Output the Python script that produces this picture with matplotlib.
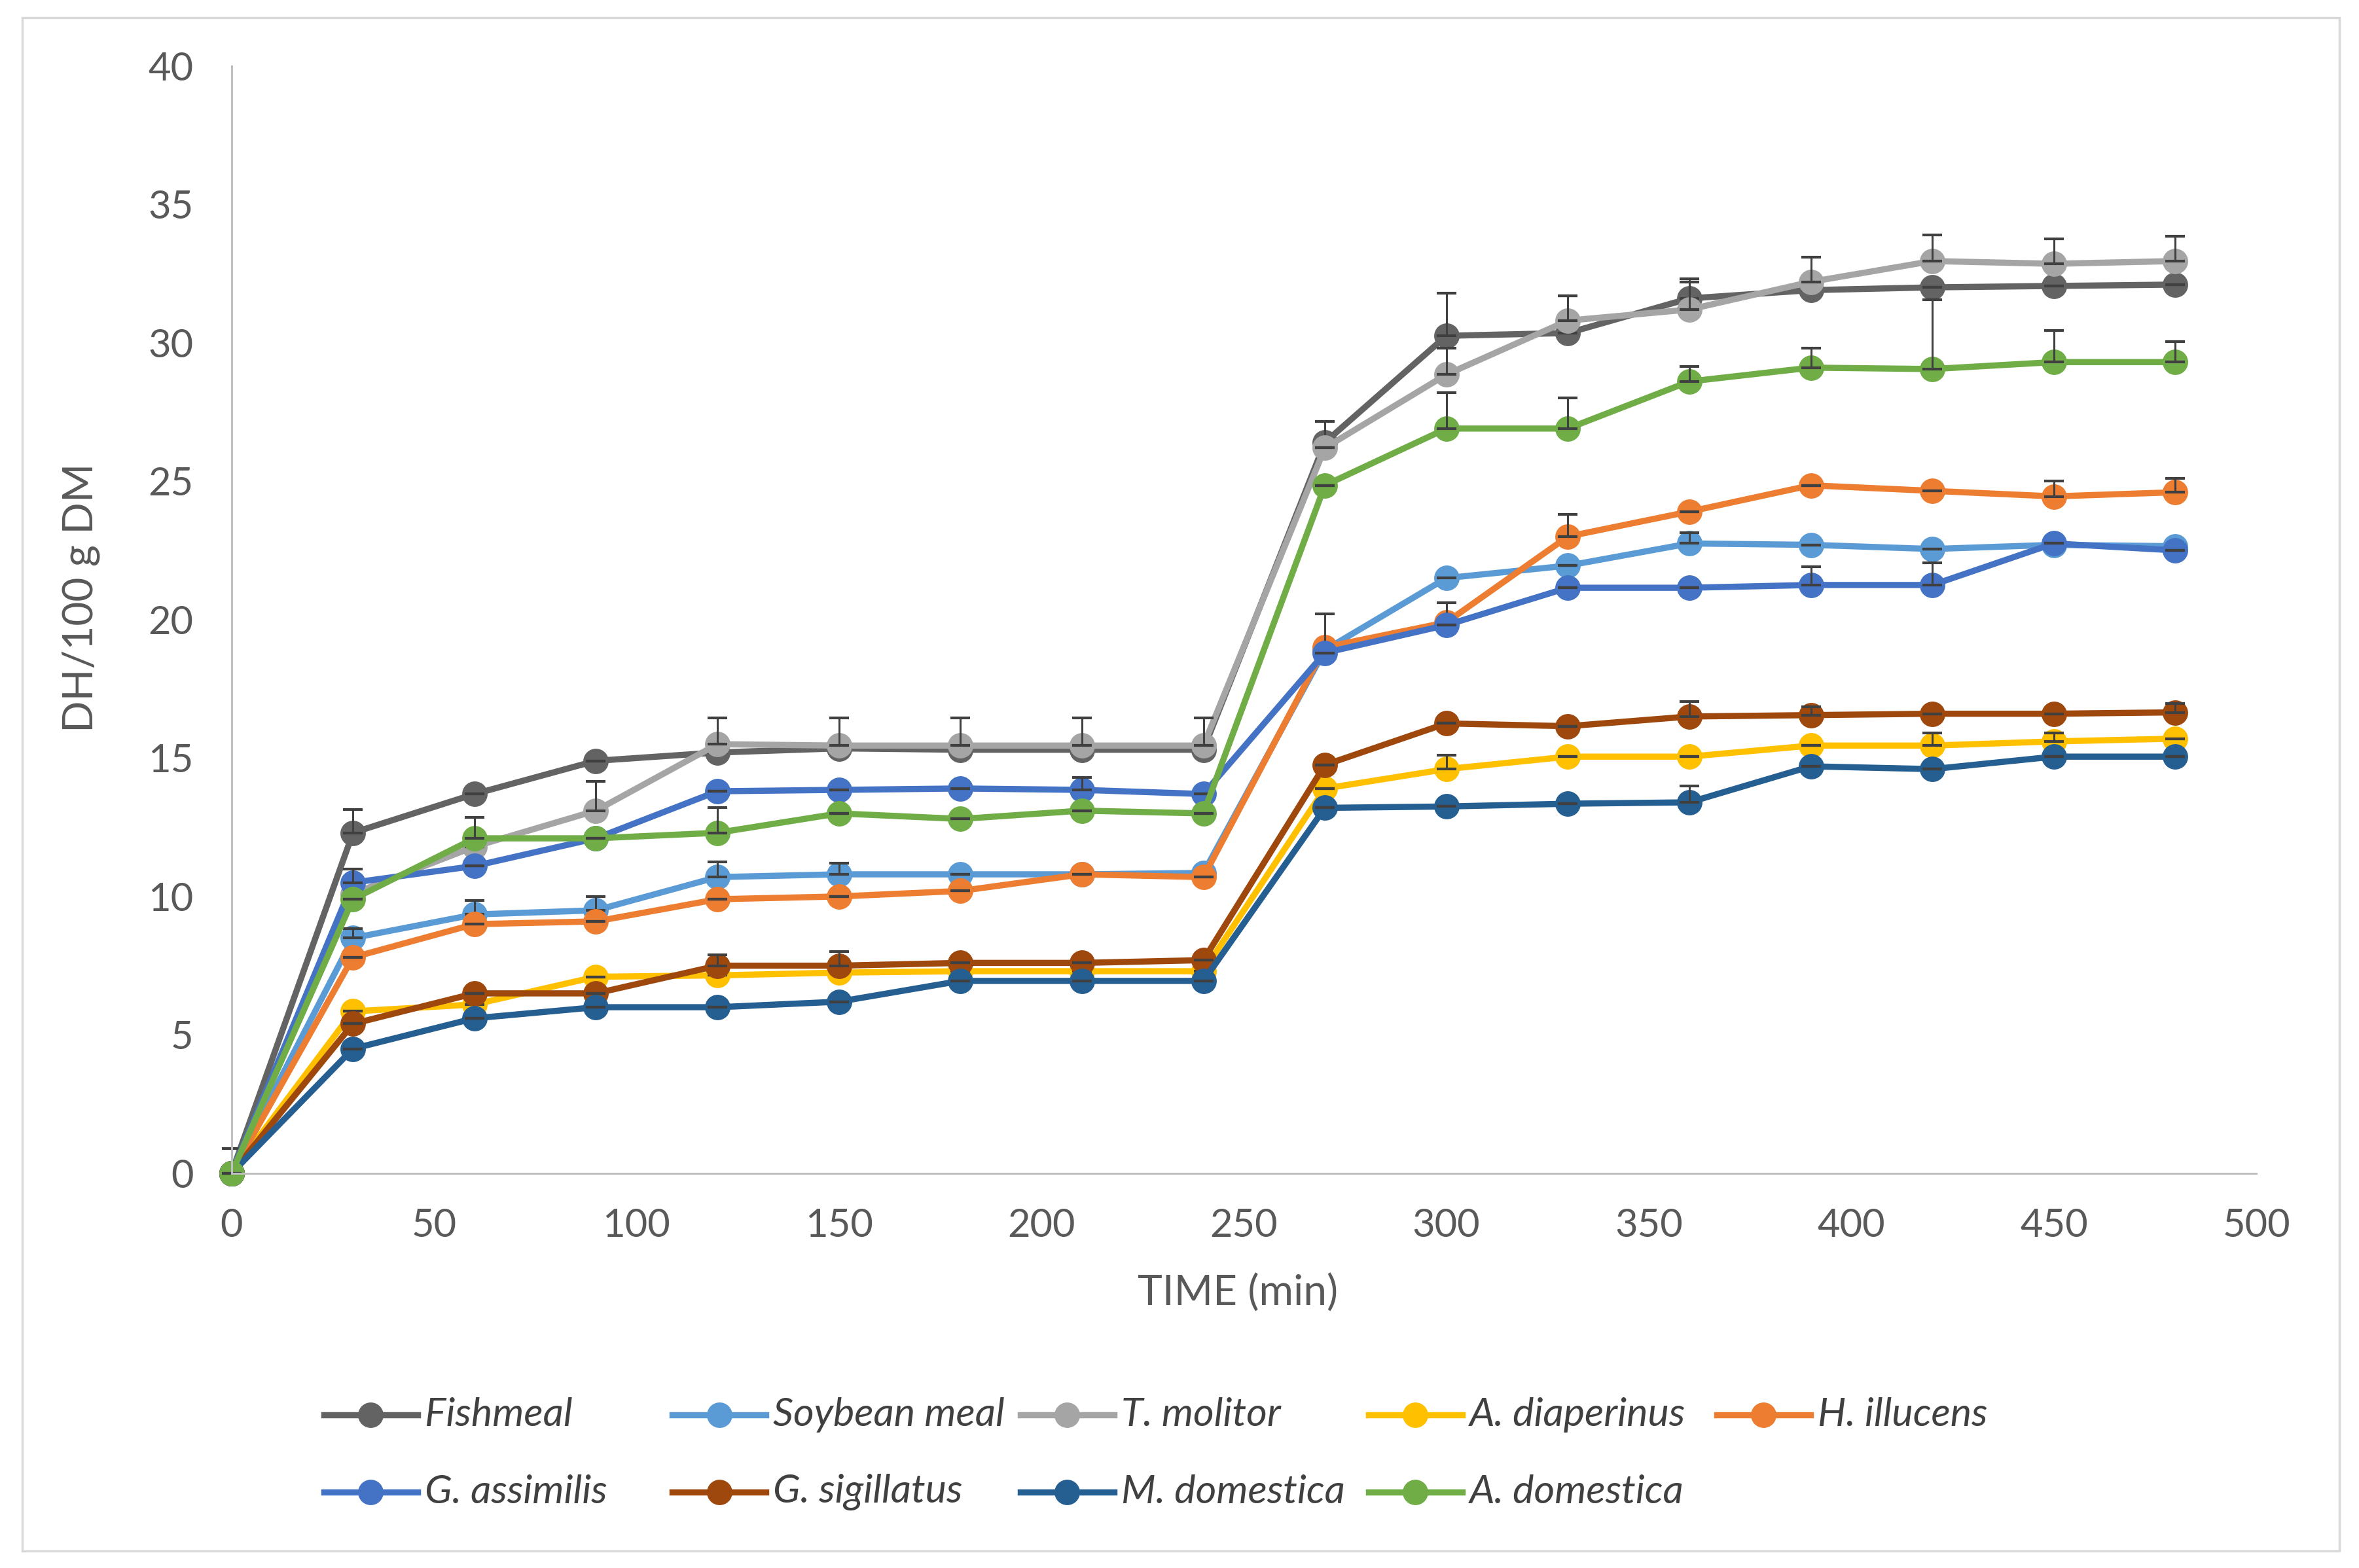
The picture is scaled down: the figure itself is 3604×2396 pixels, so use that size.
"""
Degree of hydrolysis (DH/100 g DM) over time for fishmeal, soybean meal and
seven insect meals, Excel-style line chart with upward error bars.
"""

import matplotlib

matplotlib.use("Agg")
import matplotlib.pyplot as plt
from matplotlib.lines import Line2D
from matplotlib.patches import Rectangle

plt.rcParams["font.family"] = ["Lato", "DejaVu Sans"]

# --- data ------------------------------------------------------------
time_min = [0, 30, 60, 90, 120, 150, 180, 210, 240, 270, 300, 330, 360, 390, 420, 450, 480]

series_names = ["Fishmeal", "Soybean meal", "T. molitor", "A. diaperinus", "H. illucens",
                "G. assimilis", "G. sigillatus", "M. domestica", "A. domestica"]
series_colors = ["#636363", "#5B9BD5", "#A5A5A5", "#FFC000", "#ED7D31",
                 "#4472C4", "#9E480E", "#255E91", "#70AD47"]

fishmeal = [0, 12.3, 13.7, 14.9, 15.2, 15.35, 15.3, 15.3, 15.3, 26.4, 30.25, 30.35, 31.6, 31.9, 32.0, 32.05, 32.1]
fishmeal_err = [0.9, 0.85, 0, 0, 0, 0, 0, 0, 0, 0.75, 1.55, 1.35, 0.7, 0, 0, 0, 0]

soybean = [0, 8.5, 9.35, 9.5, 10.7, 10.8, 10.8, 10.8, 10.85, 18.9, 21.5, 21.95, 22.75, 22.7, 22.55, 22.7, 22.65]
soybean_err = [0, 0.35, 0.5, 0.5, 0.55, 0.4, 0, 0, 0, 0, 0, 0, 0.4, 0, 0, 0, 0]

t_molitor = [0, 10.1, 11.8, 13.1, 15.5, 15.45, 15.45, 15.45, 15.45, 26.2, 28.85, 30.8, 31.2, 32.2, 32.95, 32.85, 32.95]
t_molitor_err = [0, 0, 0, 1.05, 0.95, 1.0, 1.0, 1.0, 1.0, 0, 0.95, 0.9, 1.0, 0.9, 0.95, 0.9, 0.9]

a_diaperinus = [0, 5.85, 6.1, 7.1, 7.15, 7.25, 7.3, 7.3, 7.3, 13.9, 14.6, 15.05, 15.05, 15.45, 15.45, 15.6, 15.7]
a_diaperinus_err = [0, 0, 0, 0, 0, 0, 0, 0, 0, 0, 0.5, 0, 0, 0, 0.45, 0.3, 0]

h_illucens = [0, 7.8, 9.0, 9.1, 9.9, 10.0, 10.2, 10.8, 10.7, 19.0, 19.9, 23.0, 23.9, 24.85, 24.65, 24.45, 24.6]
h_illucens_err = [0, 0, 0, 0, 0, 0, 0, 0, 0, 1.2, 0.7, 0.8, 0, 0, 0, 0.55, 0.5]

g_assimilis = [0, 10.5, 11.1, 12.1, 13.8, 13.85, 13.9, 13.85, 13.7, 18.8, 19.8, 21.15, 21.15, 21.25, 21.25, 22.75, 22.5]
g_assimilis_err = [0, 0.5, 0, 0, 0, 0, 0, 0.45, 0, 0, 0, 0, 0, 0.65, 0.8, 0, 0]

g_sigillatus = [0, 5.4, 6.5, 6.5, 7.5, 7.5, 7.6, 7.6, 7.7, 14.75, 16.25, 16.15, 16.5, 16.55, 16.6, 16.6, 16.65]
g_sigillatus_err = [0, 0, 0, 0, 0.4, 0.5, 0, 0, 0, 0, 0, 0, 0.55, 0.3, 0, 0, 0.33]

m_domestica = [0, 4.5, 5.6, 6.0, 6.0, 6.2, 6.95, 6.95, 6.95, 13.2, 13.25, 13.35, 13.4, 14.7, 14.6, 15.05, 15.05]
m_domestica_err = [0, 0, 0, 0, 0, 0, 0, 0, 0, 0, 0, 0, 0.6, 0, 0, 0, 0]

a_domestica = [0, 9.9, 12.1, 12.1, 12.3, 13.0, 12.8, 13.1, 13.0, 24.85, 26.9, 26.9, 28.6, 29.1, 29.05, 29.3, 29.3]
a_domestica_err = [0, 0, 0.75, 0, 0.9, 0, 0, 0, 0, 0, 1.3, 1.1, 0.55, 0.7, 2.5, 1.15, 0.75]

series_values = [fishmeal, soybean, t_molitor, a_diaperinus, h_illucens,
                 g_assimilis, g_sigillatus, m_domestica, a_domestica]
series_errors = [fishmeal_err, soybean_err, t_molitor_err, a_diaperinus_err, h_illucens_err,
                 g_assimilis_err, g_sigillatus_err, m_domestica_err, a_domestica_err]

# --- figure ----------------------------------------------------------
W, H = 3605, 2396
fig = plt.figure(figsize=(W / 100, H / 100), dpi=100)
fig.add_artist(Rectangle((34 / W, 1 - 2370 / H), (3574 - 34) / W, (2370 - 27) / H,
                         transform=fig.transFigure, fill=False, edgecolor="#D9D9D9", linewidth=2.5))

ax = fig.add_axes([0.0981, 0.2517, 0.8581, 0.7063])

LW, MS = 6.8, 28
for vals, errs, color in zip(series_values, series_errors, series_colors):
    ax.plot(time_min, vals, color=color, linewidth=LW, marker="o", markersize=MS,
            markeredgewidth=0, clip_on=False)
    lower = [0] * len(errs)
    ax.errorbar(time_min, vals, yerr=[lower, errs], fmt="none", ecolor="#404040",
                elinewidth=2.2, capsize=10.5, capthick=3, clip_on=False)

ax.set_xlim(0, 500)
ax.set_ylim(0, 40)
ax.set_xticks(range(0, 501, 50))
ax.set_yticks(range(0, 41, 5))
ax.tick_params(length=0, labelsize=43, colors="#595959")
ax.tick_params(axis="x", pad=38)
ax.tick_params(axis="y", pad=42)
for side in ("top", "right"):
    ax.spines[side].set_visible(False)
for side in ("left", "bottom"):
    ax.spines[side].set_color("#BFBFBF")
    ax.spines[side].set_linewidth(2.2)

ax.set_xlabel("TIME (min)", fontsize=46, color="#595959")
ax.set_ylabel("DH/100 g DM", fontsize=46, color="#595959")
ax.xaxis.set_label_coords(0.497, -0.091)
ax.yaxis.set_label_coords(-0.065, 0.52)

# --- legend (Excel-like fixed-width columns, two rows) ---------------
col_x0, col_step, handle_len = 495, 532, 143
row_y = [2162, 2280]
for i, (name, color) in enumerate(zip(series_names, series_colors)):
    row, col = divmod(i, 5)
    x0 = col_x0 + col * col_step
    y = 1 - row_y[row] / H
    fig.add_artist(Line2D([x0 / W, (x0 + handle_len) / W], [y, y], transform=fig.transFigure,
                          color=color, linewidth=LW))
    fig.add_artist(Line2D([(x0 + handle_len / 2) / W], [y], transform=fig.transFigure,
                          color=color, marker="o", markersize=MS, markeredgewidth=0))
    fig.text((x0 + handle_len + 11) / W, y, name, fontsize=44, style="italic",
             color="#404040", va="center", ha="left")

fig.savefig("out.png", dpi=100)
